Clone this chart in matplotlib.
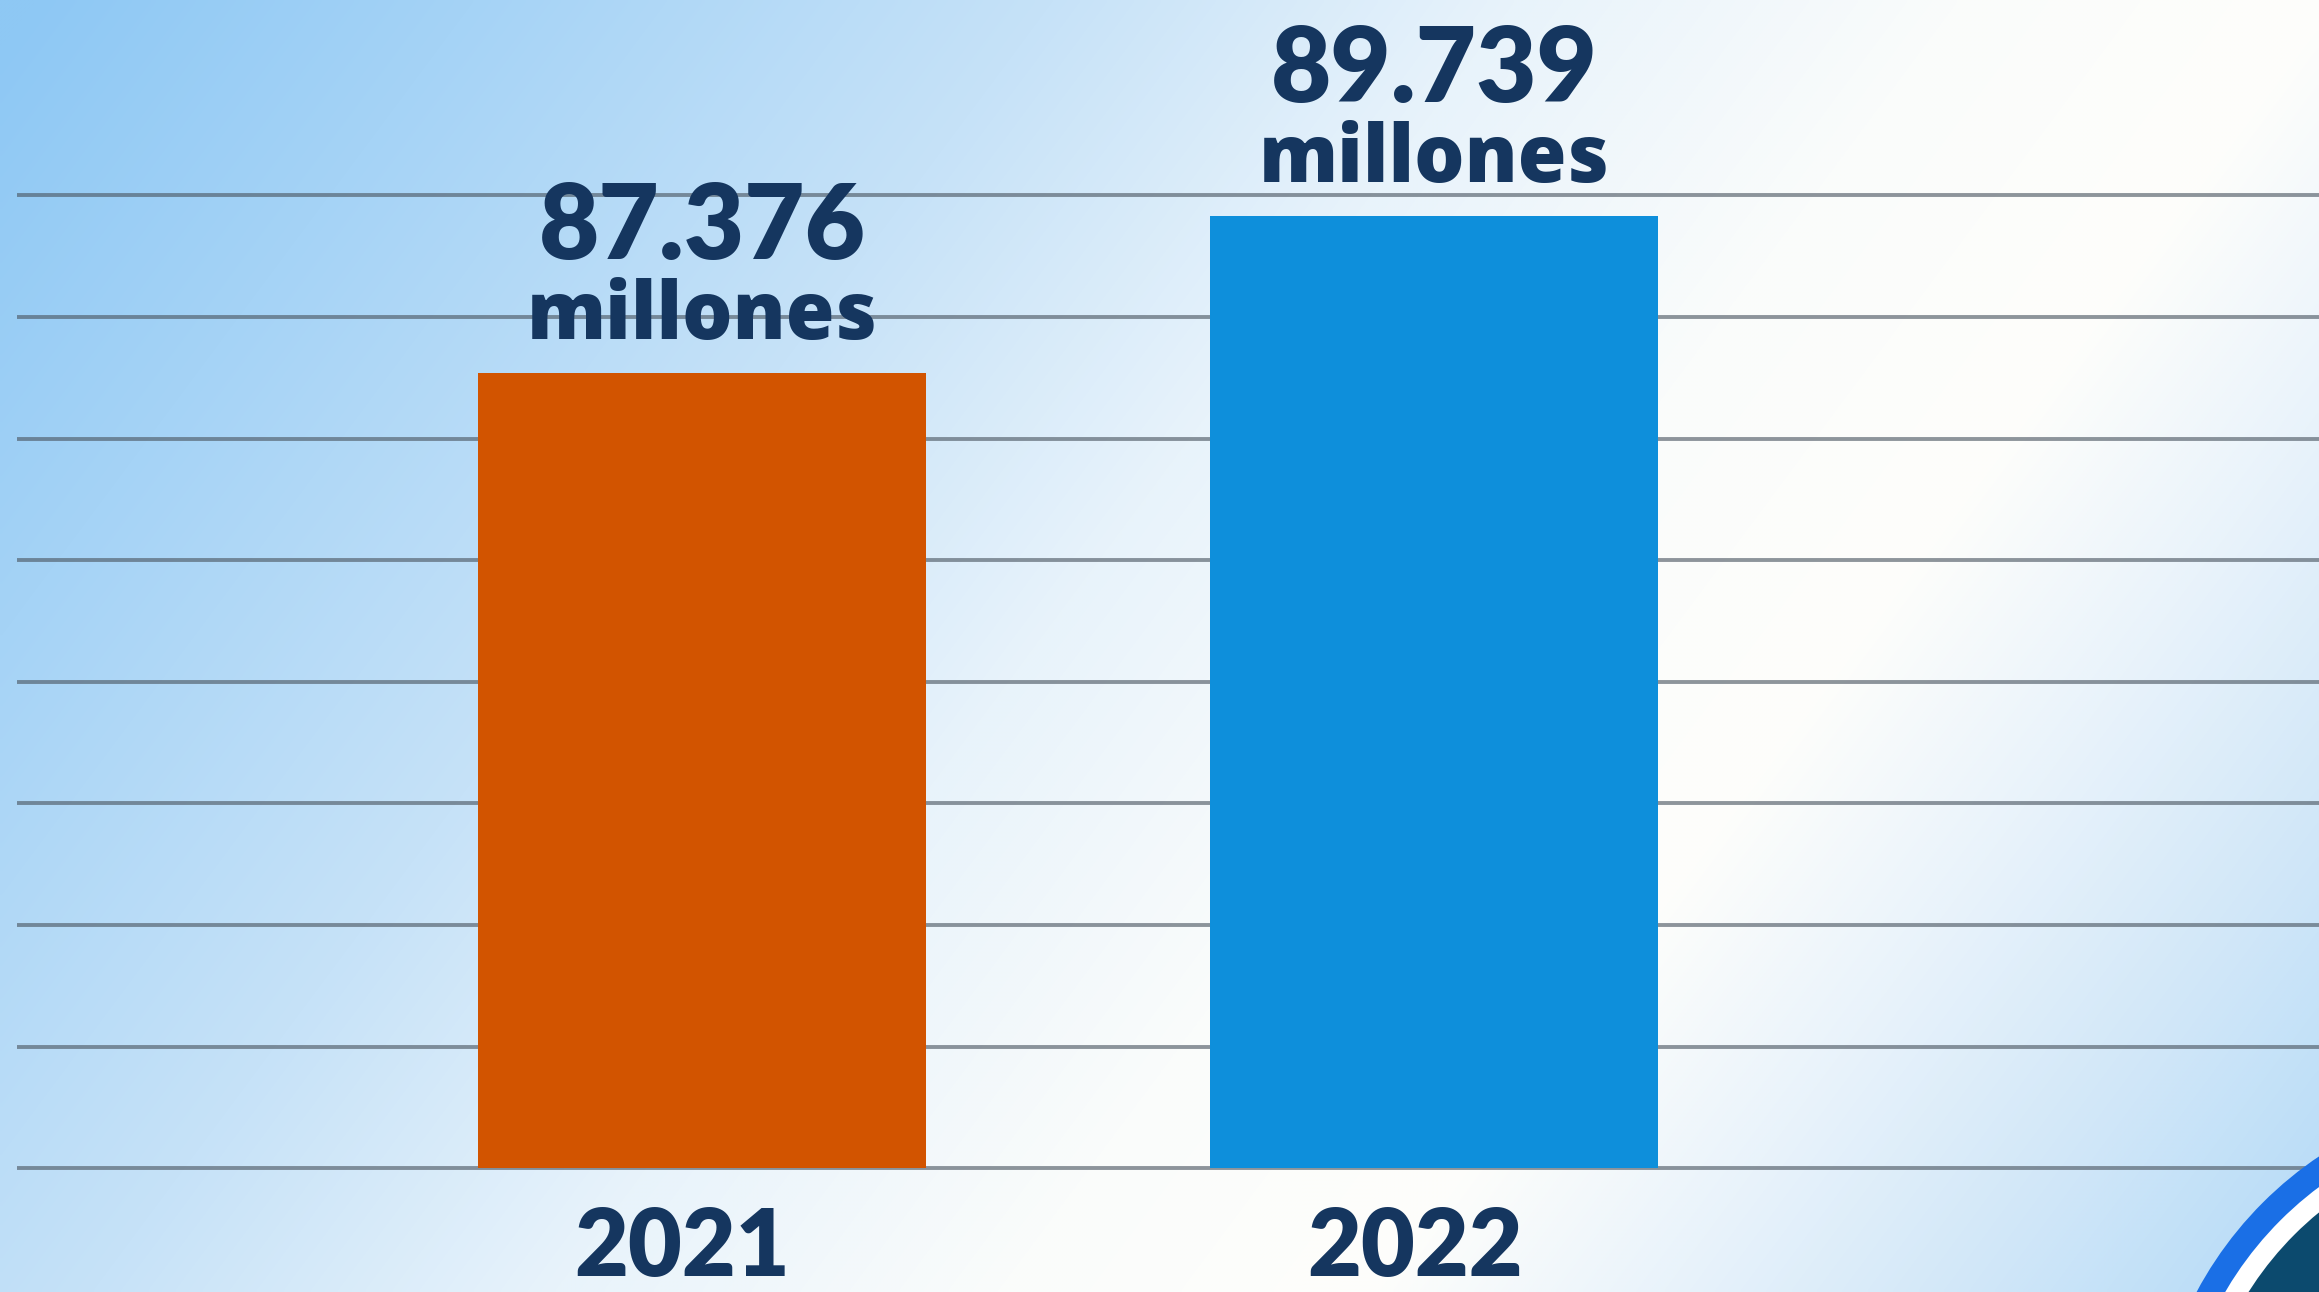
import matplotlib

matplotlib.use("Agg")

import matplotlib.pyplot as plt
import numpy as np
from matplotlib.colors import to_rgb
from matplotlib.patches import Circle


YEARS = ["2021", "2022"]
POPULATION = [87.376, 89.739]
VALUE_LABELS = ["87.376", "89.739"]
UNIT_LABEL = "millones"

FIG_W, FIG_H, DPI = 2319, 1292, 100
BAR_COLORS = ["#d25400", "#0e8fdb"]
TEXT_COLOR = "#15365f"
GRID_COLOR = "#4a5560"

Y_BASE = 75.4          # value at the bottom gridline where the bars start
Y_LIMITS = (73.538, 93.0)
GRID_STEP = 1.8324
N_GRID = 9
X_LIMITS = (-0.9358, 2.2090)
BAR_WIDTH = 0.612
AXES_LEFT_PX = 17

NUMBER_FONT = "Lato"
UNIT_FONT = "Open Sans"

# background: signed distance (px) from a diagonal white band -> colour
BAND_P0 = (2071.0, 0.0)
BAND_P1 = (1109.0, 1292.0)
GRADIENT_STOPS = [
    (-1630, "#8ec8f4"),
    (-1280, "#a5d3f6"),
    (-815, "#c6e2f8"),
    (-445, "#e8f3fb"),
    (-90, "#fafcfb"),
    (205, "#fefefb"),
    (445, "#e9f3fb"),
    (710, "#cfe6f8"),
    (800, "#c5e2f8"),
    (970, "#b3d9f6"),
]

CORNER_CENTER = (2530, 1470)
CORNER_RINGS = [(378, "#1a6fe6"), (353, "#ffffff"), (333, "#0c4a6e")]


def _background_image(step: int = 4) -> np.ndarray:
    xs = np.arange(0, FIG_W, step) + step / 2
    ys = np.arange(0, FIG_H, step) + step / 2
    gx, gy = np.meshgrid(xs, ys)
    dx, dy = BAND_P1[0] - BAND_P0[0], BAND_P1[1] - BAND_P0[1]
    norm = np.hypot(dx, dy)
    nx, ny = dy / norm, -dx / norm
    dist = (gx - BAND_P0[0]) * nx + (gy - BAND_P0[1]) * ny
    stops = np.array([s[0] for s in GRADIENT_STOPS], dtype=float)
    cols = np.array([to_rgb(s[1]) for s in GRADIENT_STOPS])
    img = np.stack([np.interp(dist, stops, cols[:, c]) for c in range(3)], axis=-1)
    return img


def main() -> None:
    fig = plt.figure(figsize=(FIG_W / DPI, FIG_H / DPI), dpi=DPI)

    bg = fig.add_axes([0, 0, 1, 1])
    bg.imshow(_background_image(), extent=(0, FIG_W, FIG_H, 0), aspect="auto", interpolation="bilinear")
    bg.set_xlim(0, FIG_W)
    bg.set_ylim(FIG_H, 0)
    bg.axis("off")

    ax = fig.add_axes([AXES_LEFT_PX / FIG_W, 0, 1 - AXES_LEFT_PX / FIG_W, 1])
    ax.set_facecolor("none")
    x = np.arange(len(YEARS))
    heights = [v - Y_BASE for v in POPULATION]
    ax.bar(x, heights, bottom=Y_BASE, width=BAR_WIDTH, color=BAR_COLORS, zorder=2)

    ax.set_xlim(*X_LIMITS)
    ax.set_ylim(*Y_LIMITS)
    ax.set_yticks(Y_BASE + GRID_STEP * np.arange(N_GRID))
    ax.set_xticks([])
    ax.grid(axis="y", color=GRID_COLOR, linewidth=2.8, alpha=0.62)
    ax.set_axisbelow(True)
    ax.tick_params(axis="y", length=0, labelleft=False)
    for spine in ax.spines.values():
        spine.set_visible(False)

    for i, (value, label) in enumerate(zip(POPULATION, VALUE_LABELS)):
        ax.annotate(
            UNIT_LABEL,
            xy=(i, value),
            xytext=(0, 25),
            textcoords="offset points",
            ha="center",
            va="baseline",
            fontsize=57,
            fontweight="heavy",
            family=[UNIT_FONT, "DejaVu Sans"],
            color=TEXT_COLOR,
        )
        ax.annotate(
            label,
            xy=(i, value),
            xytext=(0, 82.5),
            textcoords="offset points",
            ha="center",
            va="baseline",
            fontsize=75,
            fontweight="heavy",
            family=[NUMBER_FONT, "DejaVu Sans"],
            color=TEXT_COLOR,
        )
        ax.annotate(
            YEARS[i],
            xy=(i, Y_BASE),
            xytext=(-14, -27),
            textcoords="offset points",
            ha="center",
            va="top",
            fontsize=67,
            fontweight="heavy",
            family=[NUMBER_FONT, "DejaVu Sans"],
            color=TEXT_COLOR,
            annotation_clip=False,
        )

    deco = fig.add_axes([0, 0, 1, 1])
    deco.set_xlim(0, FIG_W)
    deco.set_ylim(FIG_H, 0)
    deco.axis("off")
    for radius, colour in CORNER_RINGS:
        deco.add_patch(Circle(CORNER_CENTER, radius, color=colour, linewidth=0))

    fig.savefig("out.png", dpi=DPI)
    plt.close(fig)


if __name__ == "__main__":
    main()
